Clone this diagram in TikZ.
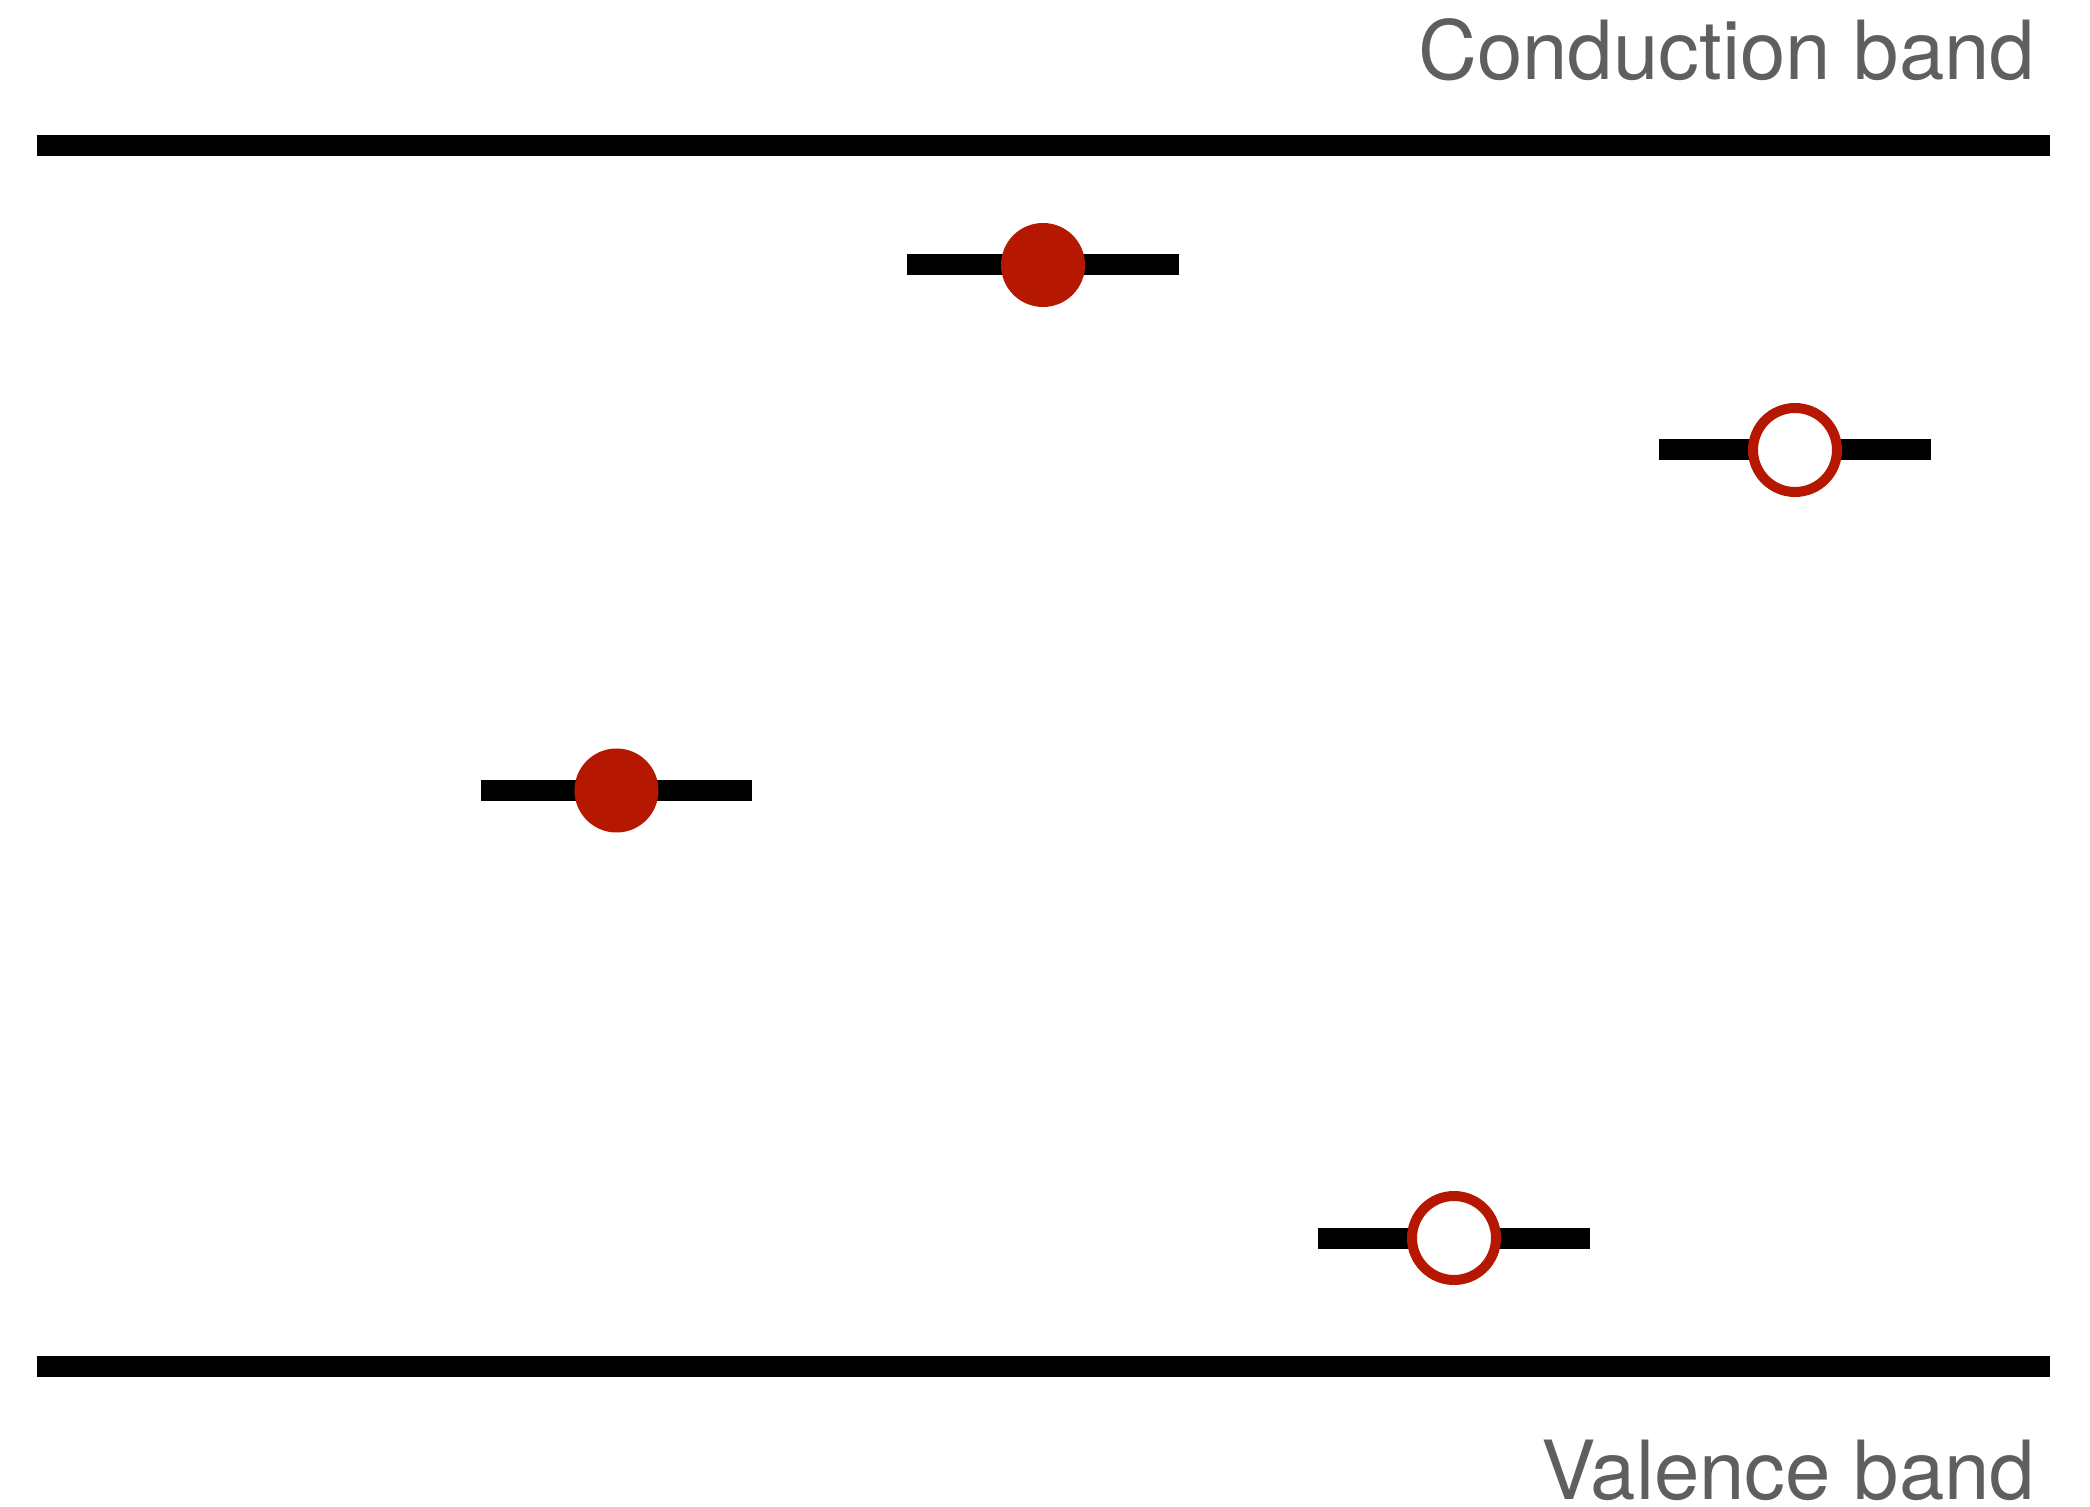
\documentclass[tikz,border=0pt]{standalone}
\usepackage{fontspec}
\setmainfont{TeX Gyre Heros}
\definecolor{carrier}{RGB}{181,23,0}
\definecolor{labelgray}{RGB}{95,95,95}
\begin{document}
\begin{tikzpicture}[x=0.25pt,y=-0.25pt,
  band/.style={line width=5.25pt,line cap=butt,black},
  levelbar/.style={line width=5.25pt,line cap=butt,black},
  electron/.style={circle,fill=carrier,draw=none,minimum size=21pt,inner sep=0pt},
  hole/.style={circle,fill=white,draw=carrier,line width=2.5pt,minimum size=21pt,inner sep=0pt},
  bandlabel/.style={anchor=base east,inner sep=0pt,text=labelgray,font=\fontsize{20.4pt}{24pt}\selectfont}]
\useasboundingbox (0,0) rectangle (2090,1507);
% bands
\coordinate (cbL) at (36.7,145.7);
\coordinate (cbR) at (2049.7,145.7);
\coordinate (vbL) at (36.7,1366);
\coordinate (vbR) at (2049.7,1366);
\draw[band] (cbL) -- (cbR);
\draw[band] (vbL) -- (vbR);
% levels
\coordinate (l1L) at (907,265);   \coordinate (l1R) at (1179,265);
\coordinate (l2L) at (1659,450);  \coordinate (l2R) at (1931,450);
\coordinate (l3L) at (480.7,790.5); \coordinate (l3R) at (752.3,790.5);
\coordinate (l4L) at (1318.3,1238); \coordinate (l4R) at (1590,1238);
\draw[levelbar] (l1L) -- (l1R);
\draw[levelbar] (l2L) -- (l2R);
\draw[levelbar] (l3L) -- (l3R);
\draw[levelbar] (l4L) -- (l4R);
% carriers
\node[electron] (e1) at (1043,265) {};
\node[hole] (h1) at (1795,450) {};
\node[electron] (e2) at (616.5,790.5) {};
\node[hole] (h2) at (1454,1238) {};
% labels
\node[bandlabel] (cblabel) at (2036,80) {Conduction band};
\node[bandlabel] (vblabel) at (2036,1499) {Valence band};
\end{tikzpicture}
\end{document}
